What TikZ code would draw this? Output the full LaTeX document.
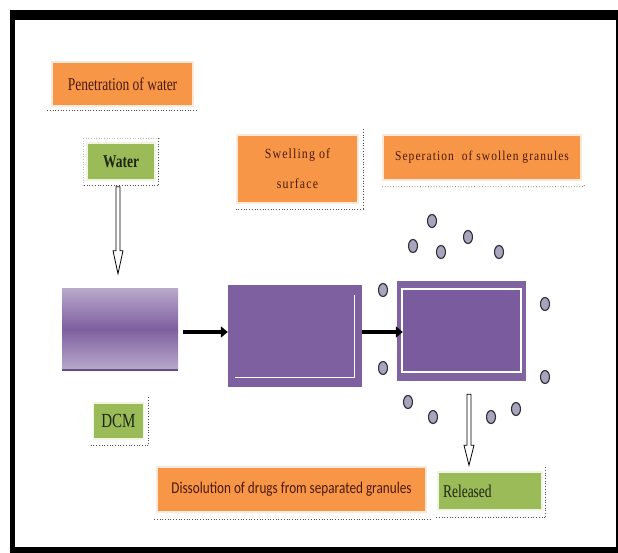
\documentclass[tikz,border=0pt]{standalone}
\usepackage{fontspec}
\setmainfont{Liberation Serif}
\newfontfamily\calfont[FakeStretch=0.8]{Carlito}
\newfontfamily\condfont[FakeStretch=0.75]{Liberation Serif}
\newfontfamily\spacedfont[LetterSpace=8, FakeStretch=0.85]{Liberation Serif}
\usetikzlibrary{arrows.meta,calc,shapes.geometric}
\definecolor{orangeF}{HTML}{F79646}
\definecolor{greenF}{HTML}{9BBB59}
\definecolor{purpleA}{HTML}{7E5F9F}
\definecolor{purpleB}{HTML}{8064A2}
\definecolor{purpleC}{HTML}{7A5C9E}
\definecolor{txtred}{HTML}{4B1A0E}
\definecolor{txtgreen}{HTML}{1C2610}
\definecolor{granfill}{HTML}{A8A4BC}
\definecolor{granline}{HTML}{2F2F3A}
\definecolor{glow}{HTML}{FCE9DA}
\definecolor{glowg}{HTML}{EEF5E0}
\tikzset{
  obox/.style={fill=orangeF, draw=glow, line width=1.5pt, inner sep=0pt, text=txtred, align=center},
  gbox/.style={fill=greenF, draw=glowg, line width=1.5pt, inner sep=0pt, text=txtgreen},
  dotline/.style={draw=black!70, dotted, line width=0.7pt},
  dotlight/.style={draw=black!25, dotted, line width=0.6pt},
  hollowarrow/.style={draw=black, fill=white, line width=0.8pt, line join=miter},
  blackarrow/.style={draw=black, line width=3.3pt, -{Triangle[length=7pt,width=11pt]}},
  granule/.style={ellipse, fill=granfill, draw=granline, line width=1.1pt, minimum width=9pt, minimum height=13pt, inner sep=0pt},
}
\begin{document}
\begin{tikzpicture}[x=1pt,y=-1pt]
\useasboundingbox (0,0) rectangle (618,553);
% frame
\fill[black] (10,10) rectangle (618,553);
\fill[white] (15,20) rectangle (616,547);

% text boxes
\node[obox, minimum width=141pt, minimum height=44pt, font=\condfont\fontsize{18}{20}\selectfont] (pen) at (122.5,84)
  {Penetration of water};
\node[gbox, minimum width=68pt, minimum height=37pt, font=\condfont\fontsize{18}{20}\selectfont\bfseries] (water) at (121,161.5)
  {Water};
\node[obox, minimum width=121pt, minimum height=68pt, font=\spacedfont\fontsize{14}{30}\selectfont] (swell) at (297.5,169)
  {Swelling of\\ surface};
\node[obox, minimum width=198pt, minimum height=45pt, font=\spacedfont\fontsize{13.5}{16}\selectfont] (sep) at (482,157.5)
  {Seperation~ of swollen granules};
\node[gbox, minimum width=50pt, minimum height=36pt, font=\condfont\fontsize{20}{22}\selectfont] (dcm) at (118.5,421)
  {DCM};
\node[obox, minimum width=269pt, minimum height=45pt, font=\calfont\fontsize{16.5}{18}\selectfont] (diss) at (291.5,489.5)
  {Dissolution of drugs from separated granules};
\node[gbox, minimum width=104pt, minimum height=38pt, text width=94pt, align=left, font=\condfont\fontsize{18}{20}\selectfont] (rel) at (490,491)
  {Released};

% dotted shadows
\draw[dotline] ($(pen.south west)+(-4,4)$) -- ($(pen.south east)+(4,4)$);
\draw[dotlight] ($(water.north west)+(-3,-4)$) -- ($(water.south west)+(-3,5)$);
\draw[dotlight] ($(water.north west)+(-3,-4)$) -- ($(water.north east)+(3,-4)$);
\draw[dotline] ($(water.north east)+(3,-4)$) -- ($(water.south east)+(3,5)$) -- ($(water.south west)+(-3,5)$);
\draw[dotline] ($(swell.north east)+(5,-5)$) -- ($(swell.south east)+(5,6)$) -- ($(swell.south west)+(-2,6)$);
\draw[dotline] ($(sep.south west)+(0,6)$) -- ($(sep.south east)+(2,6)$) -- ++(1,-3);
\draw[dotline] ($(dcm.north east)+(4,-5)$) -- ($(dcm.south east)+(4,6)$) -- ($(dcm.south west)+(-3,6)$);
\draw[dotline] ($(diss.south west)+(-2,7)$) -- ($(diss.south east)+(4,7)$);
\draw[dotline] ($(rel.north east)+(3,-4)$) -- ($(rel.south east)+(3,7)$) -- ($(rel.south west)+(-2,7)$);

% purple blocks
\node[minimum width=116pt, minimum height=82pt, inner sep=0pt, top color=purpleB!55, bottom color=purpleB!55, middle color=purpleA] (dcmrect) at (120,329) {};
\draw[draw=purpleA!80!black, line width=1.5pt] (dcmrect.south west) -- (dcmrect.south east);
\node[fill=purpleA, minimum width=134pt, minimum height=102pt, inner sep=0pt] (box2) at (295,336) {};
\draw[white, line width=1.3pt] ($(box2.north east)+(-8,10)$) -- ($(box2.south east)+(-8,-10)$) -- ($(box2.south west)+(7,-10)$);
\node[fill=purpleB, minimum width=129pt, minimum height=100pt, inner sep=0pt] (box3) at (461.5,331) {};
\draw[white, fill=purpleC, line width=1.5pt] ($(box3.north west)+(5,8)$) rectangle ($(box3.south east)+(-5,-9)$);

% black arrows
\coordinate (a1s) at ($(dcmrect.east)+(5,3)$);
\draw[blackarrow] (a1s) -- (a1s -| box2.west);
\coordinate (a2s) at ($(box2.east |- a1s)$);
\draw[blackarrow] (a2s) -- ($(a2s -| box3.west)+(6,0)$);

% hollow arrows
\draw[hollowarrow] ($(water.south)+(-5,6)$) -- ++(0,64) -- ++(-3,0) -- ++(5,23) -- ++(5,-23) -- ++(-3,0) -- ++(0,-64) -- cycle;
\draw[hollowarrow] ($(box3.south)+(5.5,13)$) -- ++(0,51) -- ++(-3,0) -- ++(5,20) -- ++(5,-20) -- ++(-3,0) -- ++(0,-51) -- cycle;

% granules
\foreach \x/\y [count=\i] in {432/221, 413/246, 441/252, 468/237, 499/252, 383/290, 545/304, 383/368, 545/377, 408/402, 433/417, 491/417, 516/409}
  \node[granule] (g\i) at (\x,\y) {};
\end{tikzpicture}
\end{document}
